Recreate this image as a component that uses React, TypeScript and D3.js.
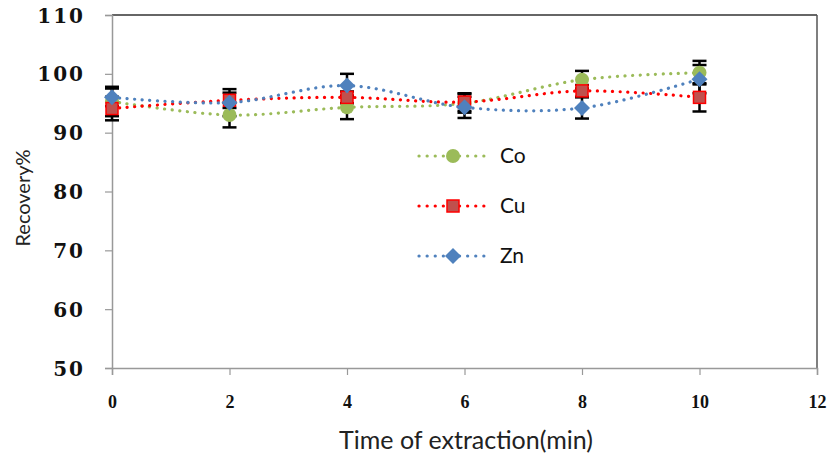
import React, { useEffect, useRef } from "react"
import * as d3 from "d3"

const times = [0, 2, 4, 6, 8, 10]
const co = [95.3, 93.0, 94.3, 95.0, 99.0, 100.2]
const cu = [94.1, 95.5, 96.0, 95.2, 97.1, 96.0]
const zn = [96.0, 95.1, 98.0, 94.3, 94.2, 99.1]
const coErr = [2.5, 2.1, 2.0, 1.6, 1.5, 2.0]
const cuErr = [2.0, 1.3, 1.0, 1.5, 1.0, 2.4]
const znErr = [1.5, 2.3, 2.0, 1.8, 1.8, 2.4]
const xTicks = [0, 2, 4, 6, 8, 10, 12]
const yTicks = [50, 60, 70, 80, 90, 100, 110]

const W = 830
const H = 461

export default function App() {
  const ref = useRef<SVGSVGElement>(null)

  useEffect(() => {
    const svg = d3.select(ref.current)
    svg.selectAll("*").remove()

    const x = d3.scaleLinear().domain([0, 12]).range([112, 817])
    const y = d3.scaleLinear().domain([50, 110]).range([368, 15])

    // plot border
    svg.append("line").attr("x1", 112).attr("x2", 817).attr("y1", 15).attr("y2", 15)
      .attr("stroke", "#333").attr("stroke-width", 1.5)
    svg.append("line").attr("x1", 817).attr("x2", 817).attr("y1", 15).attr("y2", 368)
      .attr("stroke", "#555").attr("stroke-width", 1.5)

    // axes
    const gy = svg.append("g").attr("transform", "translate(112,0)")
      .call(d3.axisLeft(y).tickValues(yTicks).tickSize(7).tickPadding(20))
    const gx = svg.append("g").attr("transform", "translate(0,368)")
      .call(d3.axisBottom(x).tickValues(xTicks).tickSize(7).tickPadding(20))
    ;[gx, gy].forEach(g => {
      g.select(".domain").attr("stroke", "#999").attr("stroke-width", 1.5)
      g.selectAll(".tick line").attr("stroke", "#999").attr("stroke-width", 1.2)
      g.selectAll(".tick text")
        .attr("fill", "#111")
        .style("font-weight", "bold")
    })
    gy.selectAll(".tick text").attr("dy", "0.35em")
      .style("font-family", "'DejaVu Serif', serif")
      .style("font-size", "20px")
      .style("letter-spacing", "2px")
    gx.selectAll(".tick text")
      .style("font-family", "'Liberation Serif', serif")
      .style("font-size", "18px")

    svg.append("text")
      .attr("transform", "translate(30,198) rotate(-90)")
      .attr("text-anchor", "middle")
      .style("font-family", "Lato, 'Open Sans', sans-serif")
      .style("font-size", "20px")
      .attr("fill", "#222")
      .text("Recovery%")
    svg.append("text")
      .attr("x", 466).attr("y", 449)
      .attr("text-anchor", "middle")
      .style("font-family", "Lato, 'Open Sans', sans-serif")
      .style("font-size", "25px")
      .attr("fill", "#222")
      .text("Time of extraction(min)")

    const series = [
      { name: "Co", values: co, err: coErr, color: "#9BBB59", fill: "#9BBB59", stroke: "#9BBB59", shape: "circle" },
      { name: "Cu", values: cu, err: cuErr, color: "#FF0000", fill: "#C0504D", stroke: "#FF0000", shape: "square" },
      { name: "Zn", values: zn, err: znErr, color: "#4F81BD", fill: "#4F81BD", stroke: "#4F81BD", shape: "diamond" },
    ]

    const line = d3.line<number>()
      .x((d, i) => x(times[i]))
      .y(d => y(d))
      .curve(d3.curveCatmullRom.alpha(0.5))

    const marker = (g: any, shape: string, cx: number, cy: number, s: any) => {
      if (shape === "circle") {
        g.append("circle").attr("cx", cx).attr("cy", cy).attr("r", 7).attr("fill", s.fill)
      } else if (shape === "square") {
        g.append("rect").attr("x", cx - 6).attr("y", cy - 6).attr("width", 12).attr("height", 12)
          .attr("fill", s.fill).attr("stroke", s.stroke).attr("stroke-width", 1.5)
      } else {
        g.append("path").attr("d", `M${cx},${cy - 8}L${cx + 8},${cy}L${cx},${cy + 8}L${cx - 8},${cy}Z`)
          .attr("fill", s.fill)
      }
    }

    // error bars
    series.forEach(s => {
      const g = svg.append("g")
      s.values.forEach((v, i) => {
        const cx = x(times[i])
        const y1 = y(v + s.err[i])
        const y2 = y(v - s.err[i])
        g.append("line").attr("x1", cx).attr("x2", cx).attr("y1", y1).attr("y2", y2)
          .attr("stroke", "#000").attr("stroke-width", 2.5)
        ;[y1, y2].forEach(yy => {
          g.append("line").attr("x1", cx - 7).attr("x2", cx + 7).attr("y1", yy).attr("y2", yy)
            .attr("stroke", "#000").attr("stroke-width", 2.5)
        })
      })
    })

    series.forEach(s => {
      svg.append("path").datum(s.values).attr("d", line)
        .attr("fill", "none").attr("stroke", s.color).attr("stroke-width", 3.2)
        .attr("stroke-linecap", "round").attr("stroke-dasharray", "0.1 7.5")
    })
    series.forEach(s => {
      const g = svg.append("g")
      s.values.forEach((v, i) => marker(g, s.shape, x(times[i]), y(v), s))
    })

    // legend
    series.forEach((s, i) => {
      const ly = 156 + i * 50
      const g = svg.append("g")
      g.append("line").attr("x1", 419).attr("x2", 486).attr("y1", ly).attr("y2", ly)
        .attr("stroke", s.color).attr("stroke-width", 3.2)
        .attr("stroke-linecap", "round").attr("stroke-dasharray", "0.1 8")
      marker(g, s.shape, 453, ly, s)
      g.append("text").attr("x", 500).attr("y", ly).attr("dy", "0.35em")
        .style("font-family", "Lato, 'Open Sans', sans-serif")
        .style("font-size", "21px")
        .attr("fill", "#111")
        .text(s.name)
    })
  }, [])

  return (
    <svg ref={ref} width={W} height={H}
      style={{ position: "absolute", left: 0, top: 0, background: "#fff" }} />
  )
}
